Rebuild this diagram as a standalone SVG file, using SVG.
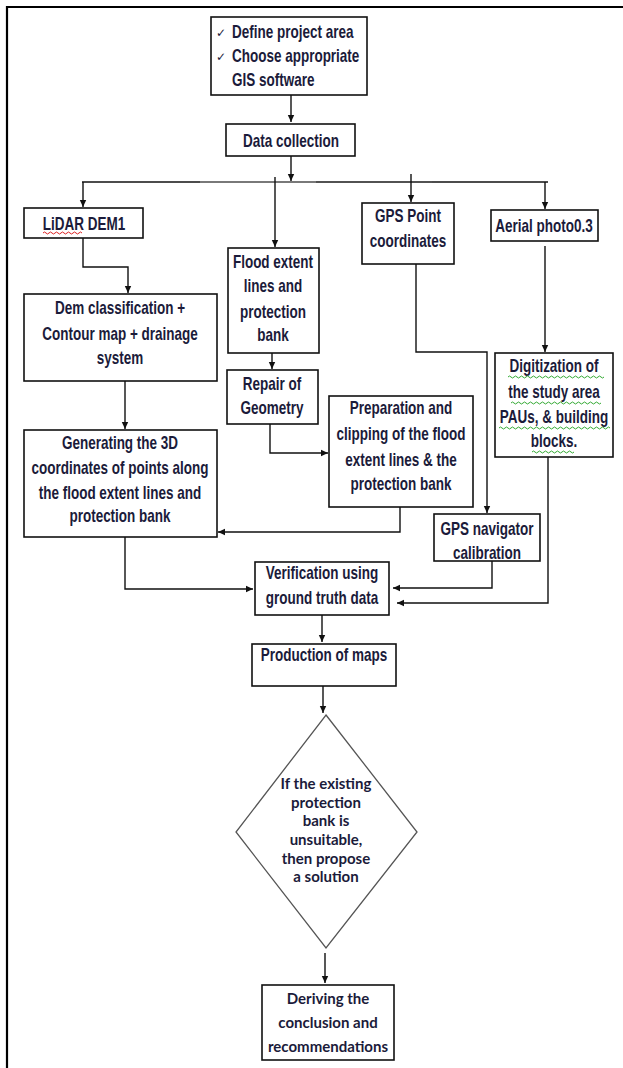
<svg xmlns="http://www.w3.org/2000/svg" width="623" height="1068" viewBox="0 0 623 1068">
<style>
.box{fill:#fff;stroke:#111;stroke-width:1.6}
.t{font-family:"Liberation Sans",Arial,sans-serif;font-weight:bold;font-size:18px;fill:#1b1b3a;text-anchor:middle}
.tl{text-anchor:start}
.c{font-family:Lato,"Open Sans",sans-serif;font-weight:bold;font-size:15px;fill:#1b1b3a;text-anchor:middle}
.ln{fill:none;stroke:#111;stroke-width:1.4}
.sq{fill:none;stroke-width:1}
.ck{font-family:"DejaVu Sans",sans-serif;font-size:12px;fill:#1b1b3a}
</style>
<defs>
<marker id="ah" markerWidth="8" markerHeight="8" refX="7" refY="4" orient="auto" markerUnits="userSpaceOnUse">
<path d="M0,0.8 L7,4 L0,7.2 Z" fill="#111"/>
</marker>
</defs>
<rect width="623" height="1068" fill="#fff"/>
<path d="M7,1068 V7 H623" fill="none" stroke="#000" stroke-width="2.2"/>

<g id="connectors">
<path class="ln" d="M291,95 V122" marker-end="url(#ah)"/>
<path class="ln" d="M291,156 V181" marker-end="url(#ah)"/>
<path class="ln" d="M82,182 H548"/>
<path d="M200,182 H316" stroke="#888" stroke-width="1.6"/>
<path d="M316,182 H432" stroke="#555" stroke-width="1.6"/>
<path class="ln" d="M83,182 V207" marker-end="url(#ah)"/>
<path class="ln" d="M275,177 V247" marker-end="url(#ah)"/>
<path class="ln" d="M411,174 V202" marker-end="url(#ah)"/>
<path class="ln" d="M545,182 V209" marker-end="url(#ah)"/>
<path class="ln" d="M83,238 V267 H128 V293" marker-end="url(#ah)"/>
<path class="ln" d="M125,381 V429" marker-end="url(#ah)"/>
<path class="ln" d="M272,353 V369" marker-end="url(#ah)"/>
<path class="ln" d="M270,424 V453 H328" marker-end="url(#ah)"/>
<path class="ln" d="M400,507 V532 H218" marker-end="url(#ah)"/>
<path class="ln" d="M416,264 V352 H487 V513" marker-end="url(#ah)"/>
<path class="ln" d="M545,246 V352" marker-end="url(#ah)"/>
<path class="ln" d="M548,457 V603 H397" marker-end="url(#ah)"/>
<path class="ln" d="M492,561 V588 H393" marker-end="url(#ah)"/>
<path class="ln" d="M125,537 V589 H253" marker-end="url(#ah)"/>
<path class="ln" d="M322,615 V642" marker-end="url(#ah)"/>
<path class="ln" d="M323,686 V713" marker-end="url(#ah)"/>
<path class="ln" d="M325,953 V983" marker-end="url(#ah)"/>
</g>

<g id="n-define">
<rect class="box" x="211" y="17" width="156" height="78"/>
<text class="ck" x="216" y="37">✓</text>
<text class="ck" x="216" y="61">✓</text>
<g transform="matrix(.75 0 0 1 58 0)">
<text class="t tl" x="232" y="38">Define project area</text>
<text class="t tl" x="232" y="62">Choose appropriate</text>
<text class="t tl" x="232" y="86">GIS software</text>
</g>
</g>

<g id="n-data">
<rect class="box" x="226" y="124" width="129" height="32"/>
<text class="t" x="291" y="147" transform="matrix(.75 0 0 1 72.75 0)">Data collection</text>
</g>

<g id="n-lidar">
<rect class="box" x="24" y="208" width="119" height="30"/>
<text class="t" x="84" y="230" transform="matrix(.75 0 0 1 21 0)">LiDAR DEM1</text>
<path class="sq" stroke="#d22" d="M43,233 q1.5,-2 3,0 t3,0 t3,0 t3,0 t3,0 t3,0 t3,0 t3,0 t3,0 t3,0 t3,0 t3,0 t3,0"/>
</g>

<g id="n-flood">
<rect class="box" x="228" y="248" width="91" height="105"/>
<g transform="matrix(.75 0 0 1 68.25 0)">
<text class="t" x="273" y="268">Flood extent</text>
<text class="t" x="273" y="292">lines and</text>
<text class="t" x="273" y="318">protection</text>
<text class="t" x="273" y="341">bank</text>
</g>
</g>

<g id="n-gpspoint">
<rect class="box" x="362" y="203" width="92" height="61"/>
<g transform="matrix(.75 0 0 1 102 0)">
<text class="t" x="408" y="222">GPS Point</text>
<text class="t" x="408" y="247">coordinates</text>
</g>
</g>

<g id="n-aerial">
<rect class="box" x="491" y="210" width="107" height="31"/>
<text class="t" x="544" y="232" transform="matrix(.75 0 0 1 136 0)">Aerial photo0.3</text>
</g>

<g id="n-dem">
<rect class="box" x="24" y="294" width="193" height="87"/>
<g transform="matrix(.75 0 0 1 30 0)">
<text class="t" x="120" y="314">Dem classification +</text>
<text class="t" x="120" y="340">Contour map + drainage</text>
<text class="t" x="120" y="364">system</text>
</g>
</g>

<g id="n-repair">
<rect class="box" x="227" y="370" width="91" height="54"/>
<g transform="matrix(.75 0 0 1 68 0)">
<text class="t" x="272" y="390">Repair of</text>
<text class="t" x="272" y="414">Geometry</text>
</g>
</g>

<g id="n-digit">
<rect class="box" x="495" y="353" width="118" height="104"/>
<g transform="matrix(.75 0 0 1 138.5 0)">
<text class="t" x="554" y="372">Digitization of</text>
<text class="t" x="554" y="398">the study area</text>
<text class="t" x="554" y="423">PAUs, &amp; building</text>
<text class="t" x="554" y="447">blocks.</text>
</g>
<g class="sq" stroke="#3a3">
<path d="M508,377 q1.5,-2 3,0 t3,0 t3,0 t3,0 t3,0 t3,0 t3,0 t3,0 t3,0 t3,0 t3,0 t3,0 t3,0 t3,0 t3,0 t3,0 t3,0 t3,0 t3,0 t3,0 t3,0 t3,0 t3,0 t3,0 t3,0 t3,0 t3,0 t3,0 t3,0 t3,0 t3,0 t3,0"/>
<path d="M511,403 q1.5,-2 3,0 t3,0 t3,0 t3,0 t3,0 t3,0 t3,0 t3,0 t3,0 t3,0 t3,0 t3,0 t3,0 t3,0 t3,0 t3,0 t3,0 t3,0 t3,0 t3,0 t3,0 t3,0 t3,0 t3,0 t3,0 t3,0 t3,0 t3,0 t3,0 t3,0"/>
<path d="M499,428 q1.5,-2 3,0 t3,0 t3,0 t3,0 t3,0 t3,0 t3,0 t3,0 t3,0 t3,0 t3,0 t3,0 t3,0 t3,0 t3,0 t3,0 t3,0 t3,0 t3,0 t3,0 t3,0 t3,0 t3,0 t3,0 t3,0 t3,0 t3,0 t3,0 t3,0 t3,0 t3,0 t3,0 t3,0 t3,0 t3,0 t3,0 t3,0"/>
<path d="M532,452 q1.5,-2 3,0 t3,0 t3,0 t3,0 t3,0 t3,0 t3,0 t3,0 t3,0 t3,0 t3,0 t3,0 t3,0 t3,0"/>
</g>
</g>

<g id="n-prep">
<rect class="box" x="329" y="396" width="144" height="111"/>
<g transform="matrix(.75 0 0 1 100.25 0)">
<text class="t" x="401" y="414">Preparation and</text>
<text class="t" x="401" y="440">clipping of the flood</text>
<text class="t" x="401" y="466">extent  lines &amp; the</text>
<text class="t" x="401" y="490">protection bank</text>
</g>
</g>

<g id="n-gen">
<rect class="box" x="24" y="430" width="193" height="107"/>
<g transform="matrix(.75 0 0 1 30 0)">
<text class="t" x="120" y="449">Generating the 3D</text>
<text class="t" x="120" y="474">coordinates of points along</text>
<text class="t" x="120" y="499">the flood extent lines and</text>
<text class="t" x="120" y="522">protection bank</text>
</g>
</g>

<g id="n-gpsnav">
<rect class="box" x="434" y="514" width="106" height="47"/>
<g transform="matrix(.75 0 0 1 121.75 0)">
<text class="t" x="487" y="535">GPS  navigator</text>
<text class="t" x="487" y="559">calibration</text>
</g>
</g>

<g id="n-verif">
<rect class="box" x="255" y="562" width="134" height="53"/>
<g transform="matrix(.75 0 0 1 80.5 0)">
<text class="t" x="322" y="579">Verification using</text>
<text class="t" x="322" y="604">ground truth data</text>
</g>
</g>

<g id="n-prod">
<rect class="box" x="252" y="644" width="144" height="42"/>
<text class="t" x="324" y="661" transform="matrix(.75 0 0 1 81 0)">Production of maps</text>
</g>

<g id="n-decision">
<path d="M326,715 L417,832 L326,948 L236,832 Z" fill="#fff" stroke="#555" stroke-width="1.3"/>
<text class="c" x="326" y="789">If the existing</text>
<text class="c" x="326" y="808">protection</text>
<text class="c" x="326" y="826">bank is</text>
<text class="c" x="326" y="845">unsuitable,</text>
<text class="c" x="326" y="864">then propose</text>
<text class="c" x="326" y="882">a solution</text>
</g>

<g id="n-derive">
<rect class="box" x="262" y="985" width="132" height="75"/>
<text class="c" x="328" y="1004">Deriving the</text>
<text class="c" x="328" y="1028">conclusion and</text>
<text class="c" x="328" y="1052">recommendations</text>
</g>
</svg>
